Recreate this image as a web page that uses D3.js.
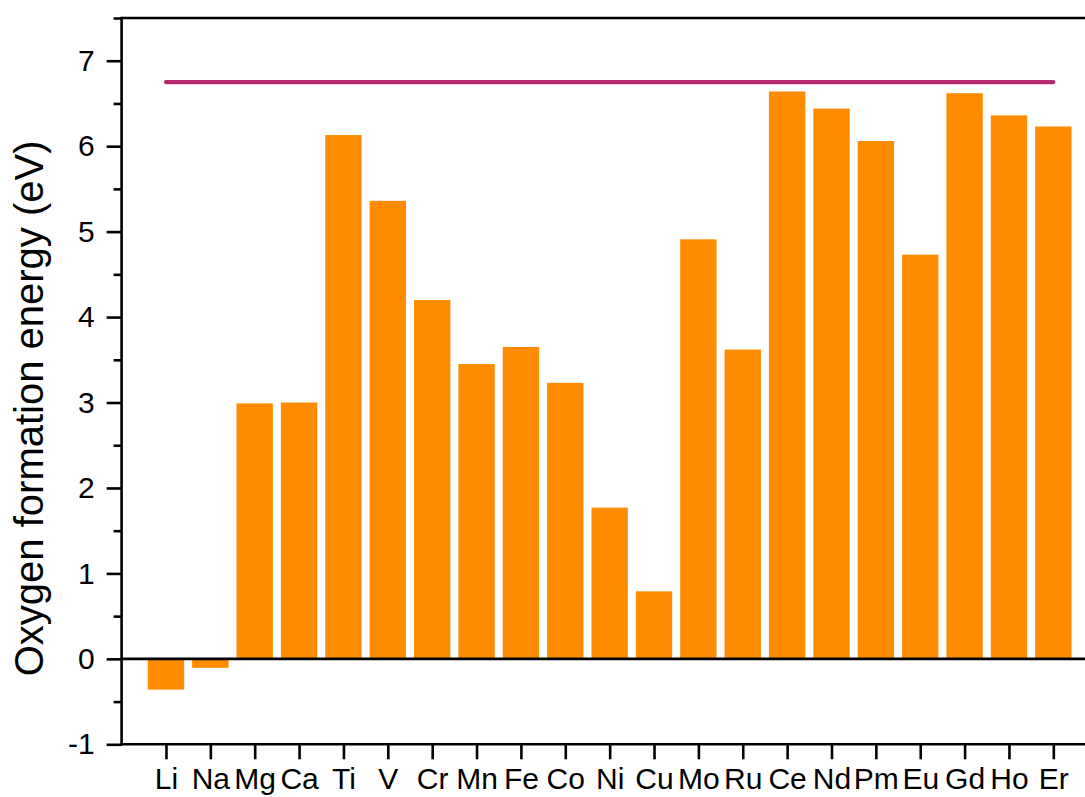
<!DOCTYPE html>
<html>
<head>
<meta charset="utf-8">
<script src="https://cdn.jsdelivr.net/npm/d3@7/dist/d3.min.js"></script>
<style>
  html, body { margin: 0; padding: 0; background: #fff; }
  svg { display: block; }
  text { font-family: Arial, "Liberation Sans", sans-serif; fill: #000; }
</style>
</head>
<body>
<svg id="chart" width="1085" height="797"></svg>
<script>
// Dopant elements along the x axis
const elements = ["Li","Na","Mg","Ca","Ti","V","Cr","Mn","Fe","Co","Ni","Cu","Mo","Ru","Ce","Nd","Pm","Eu","Gd","Ho","Er"];
// Oxygen formation energy for each dopant (eV)
const energies = [-0.36,-0.105,2.99,3.00,6.13,5.36,4.20,3.45,3.65,3.23,1.77,0.79,4.91,3.62,6.64,6.44,6.06,4.73,6.62,6.36,6.23];
// Reference level drawn as a horizontal line across all dopants (eV)
const referenceEnergy = 6.75;
// Y axis tick values
const yMajorTicks = [-1,0,1,2,3,4,5,6,7];
const yMinorTicks = [-0.5,0.5,1.5,2.5,3.5,4.5,5.5,6.5,7.5];

(function () {
  const svg = d3.select("#chart");
  const plotLeft = 121.6, plotTop = 18, plotBottom = 744.3, plotRight = 1097.7;
  const axisW = 2.6;

  const x = d3.scaleLinear().domain([-1, elements.length]).range([plotLeft, plotRight]);
  const y = d3.scaleLinear().domain([-1, 7.5]).range([plotBottom, plotTop]);
  const step = x(1) - x(0);
  const barW = step * 0.82;
  const font = "Arial, 'Liberation Sans', sans-serif";

  // Bars
  svg.append("g").selectAll("rect")
    .data(energies)
    .join("rect")
    .attr("x", (d, i) => x(i) - barW / 2)
    .attr("width", barW)
    .attr("y", d => y(Math.max(0, d)))
    .attr("height", d => Math.abs(y(d) - y(0)))
    .attr("fill", "#FF8C00");

  // Reference line
  svg.append("line")
    .attr("x1", x(0)).attr("x2", x(elements.length - 1))
    .attr("y1", y(referenceEnergy)).attr("y2", y(referenceEnergy))
    .attr("stroke", "#B5296F").attr("stroke-width", 4.2)
    .attr("stroke-linecap", "round");

  // Zero line
  svg.append("line")
    .attr("x1", plotLeft).attr("x2", 1085)
    .attr("y1", y(0)).attr("y2", y(0))
    .attr("stroke", "#000").attr("stroke-width", axisW);

  // Top frame line
  svg.append("line")
    .attr("x1", plotLeft).attr("x2", 1085)
    .attr("y1", plotTop).attr("y2", plotTop)
    .attr("stroke", "#000").attr("stroke-width", axisW);

  // Left axis: major ticks with labels
  const yAxis = d3.axisLeft(y).tickValues(yMajorTicks).tickSize(15).tickPadding(12)
    .tickFormat(d => String(d));
  const gy = svg.append("g").attr("transform", `translate(${plotLeft},0)`).call(yAxis);
  gy.select(".domain").remove();
  gy.selectAll(".tick line").attr("stroke", "#000").attr("stroke-width", axisW);
  gy.selectAll(".tick text").style("font-size", "30px").style("font-family", font);

  // Left axis: minor ticks
  const yMinor = d3.axisLeft(y).tickValues(yMinorTicks).tickSize(8).tickFormat("");
  const gym = svg.append("g").attr("transform", `translate(${plotLeft},0)`).call(yMinor);
  gym.select(".domain").remove();
  gym.selectAll(".tick line").attr("stroke", "#000").attr("stroke-width", axisW);

  svg.append("line")
    .attr("x1", plotLeft).attr("x2", plotLeft)
    .attr("y1", plotTop - 1.3).attr("y2", plotBottom + 1.3)
    .attr("stroke", "#000").attr("stroke-width", axisW);

  // Bottom axis
  const xAxis = d3.axisBottom(x).tickValues(d3.range(elements.length))
    .tickSize(15).tickPadding(8).tickFormat(i => elements[i]);
  const gx = svg.append("g").attr("transform", `translate(0,${plotBottom})`).call(xAxis);
  gx.select(".domain").remove();
  gx.selectAll(".tick line").attr("stroke", "#000").attr("stroke-width", axisW);
  gx.selectAll(".tick text").style("font-size", "30px").style("font-family", font);

  svg.append("line")
    .attr("x1", plotLeft).attr("x2", 1085)
    .attr("y1", plotBottom).attr("y2", plotBottom)
    .attr("stroke", "#000").attr("stroke-width", axisW);

  // Y axis title
  svg.append("text")
    .attr("transform", `translate(43,${(136.7 + 680) / 2}) rotate(-90)`)
    .attr("text-anchor", "middle")
    .style("font-size", "40px")
    .style("font-family", font)
    .text("Oxygen formation energy (eV)");
})();
</script>
</body>
</html>
